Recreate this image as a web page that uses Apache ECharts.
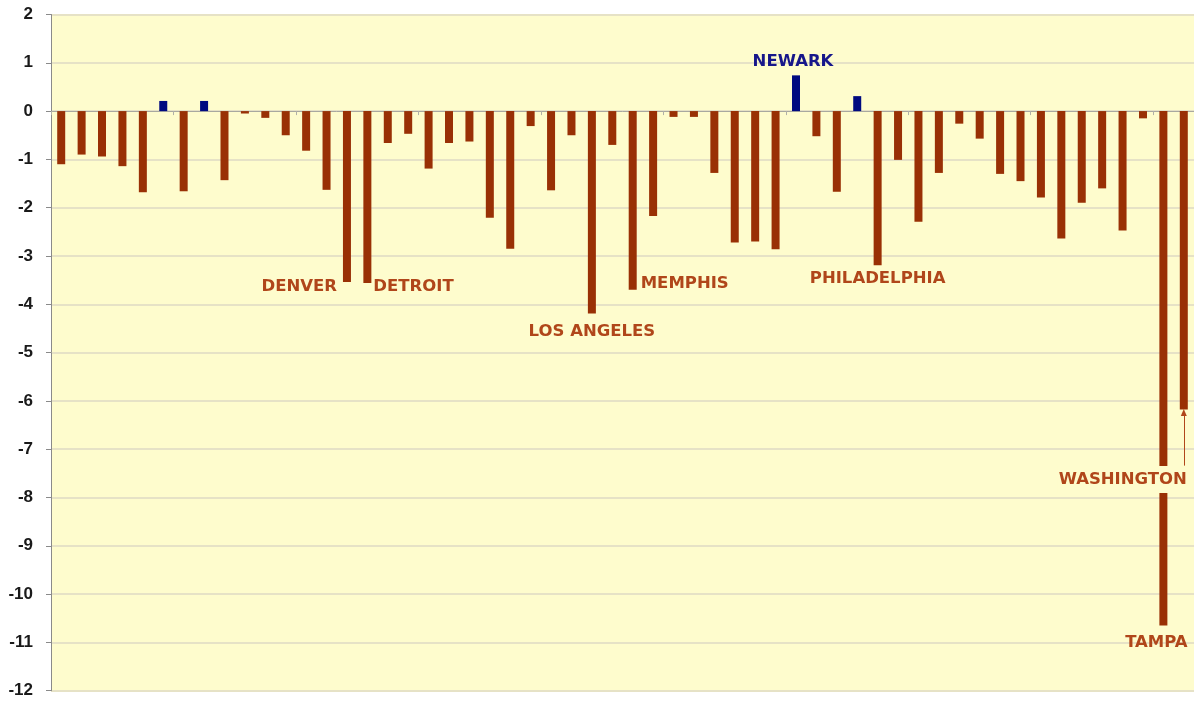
<!DOCTYPE html>
<html>
<head>
<meta charset="utf-8">
<script src="https://cdn.jsdelivr.net/npm/echarts@6/dist/echarts.min.js"></script>
<style>
html,body{margin:0;padding:0;background:#ffffff;}
#chart{width:1194px;height:701px;}
</style>
</head>
<body>
<div id="chart"></div>
<script>
// ---- data ----
const categories = [
  "C1","C2","C3","C4","C5","C6","C7","C8","C9","C10",
  "C11","C12","C13","C14","DENVER","DETROIT","C17","C18","C19","C20",
  "C21","C22","C23","C24","C25","C26","LOS ANGELES","C28","MEMPHIS","C30",
  "C31","C32","C33","C34","C35","C36","NEWARK","C38","C39","C40",
  "PHILADELPHIA","C42","C43","C44","C45","C46","C47","C48","C49","C50",
  "C51","C52","C53","C54","TAMPA","WASHINGTON"
];
const values = [
  -1.10, -0.90, -0.94, -1.14, -1.68, 0.21, -1.66, 0.21, -1.43, -0.05,
  -0.14, -0.50, -0.82, -1.63, -3.54, -3.56, -0.66, -0.47, -1.19, -0.66,
  -0.63, -2.21, -2.85, -0.31, -1.64, -0.50, -4.19, -0.70, -3.70, -2.17,
  -0.12, -0.12, -1.28, -2.72, -2.70, -2.86, 0.74, -0.52, -1.67, 0.31,
  -3.19, -1.01, -2.29, -1.28, -0.26, -0.57, -1.30, -1.45, -1.79, -2.64,
  -1.90, -1.60, -2.47, -0.15, -10.65, -6.18
];
const labelledCities = ["DENVER","DETROIT","LOS ANGELES","MEMPHIS","NEWARK","PHILADELPHIA","TAMPA","WASHINGTON"];
const yTicks = [-12,-11,-10,-9,-8,-7,-6,-5,-4,-3,-2,-1,0,1,2];
const arrowFrom = -7.34; // value where WASHINGTON arrow starts

// ---- styles ----
const BROWN = '#993005';
const LABEL_BROWN = '#b0461a';
const NAVY = '#000a80';
const PLOT_BG = '#fefccd';
const LABEL_FONT = 'DejaVu Sans, Verdana, sans-serif';

const labelStyles = {
  "DENVER":       {position:'left',   distance:10, offset:[0,5]},
  "DETROIT":      {position:'right',  distance:6,  offset:[0,4]},
  "LOS ANGELES":  {position:'bottom', distance:10, offset:[0,0]},
  "MEMPHIS":      {position:'right',  distance:8,  offset:[0,-6]},
  "NEWARK":       {position:'top',    distance:5,  offset:[-3,0]},
  "PHILADELPHIA": {position:'bottom', distance:5,  offset:[0,0]},
  "TAMPA":        {position:'bottom', distance:9,  offset:[-7,0]},
  "WASHINGTON":   {position:'inside', distance:0,  offset:[-61,70], backgroundColor:PLOT_BG, padding:[5,1,5,1]}
};

const labelData = labelledCities.map(name => {
  const i = categories.indexOf(name);
  const v = values[i];
  const st = labelStyles[name];
  return {
    value: [i, v],
    label: Object.assign({
      show: true,
      formatter: name,
      color: v > 0 ? '#16168a' : LABEL_BROWN,
      textBorderWidth: 0,
      textBorderColor: 'transparent',
      fontFamily: LABEL_FONT,
      fontWeight: 'bold',
      fontSize: 16.5
    }, st)
  };
});

const washIdx = categories.indexOf('WASHINGTON');

const chart = echarts.init(document.getElementById('chart'), null, {renderer:'canvas'});
chart.setOption({
  animation: false,
  backgroundColor: '#ffffff',
  grid: {
    left: 51, right: -1, top: 14.5, bottom: 10.3,
    show: true, backgroundColor: PLOT_BG, borderWidth: 0
  },
  xAxis: {
    type: 'category',
    data: categories,
    boundaryGap: true,
    axisLine: {show: true, onZero: true, lineStyle: {color: '#a8a8a0', width: 1}},
    axisTick: {show: true, length: 4, inside: false, lineStyle: {color: '#b0b0a8'}},
    axisLabel: {show: false},
    splitLine: {show: false}
  },
  yAxis: {
    type: 'value',
    min: yTicks[0],
    max: yTicks[yTicks.length - 1],
    interval: 1,
    axisLine: {show: true, lineStyle: {color: '#8a8a8a', width: 1}},
    axisTick: {show: true, length: 5, lineStyle: {color: '#8a8a8a'}},
    axisLabel: {
      margin: 18,
      color: '#1a1a1a',
      fontFamily: 'Liberation Sans, Arial, sans-serif',
      fontWeight: 'bold',
      fontSize: 17
    },
    splitLine: {show: true, lineStyle: {color: '#e6e2c6', width: 2}}
  },
  series: [
    {
      type: 'bar',
      data: values.map(v => ({value: v, itemStyle: {color: v > 0 ? NAVY : BROWN}})),
      barWidth: 8,
      z: 2
    },
    {
      type: 'scatter',
      data: labelData,
      symbolSize: 0,
      itemStyle: {color: LABEL_BROWN, opacity: 1},
      z: 5,
      silent: true,
      markLine: {
        silent: true,
        symbol: ['none', 'triangle'],
        symbolSize: [6, 7],
        label: {show: false},
        lineStyle: {color: LABEL_BROWN, width: 1, type: 'solid'},
        data: [[{coord: [washIdx, arrowFrom]}, {coord: [washIdx, values[washIdx] - 0.06]}]]
      }
    }
  ]
});
</script>
</body>
</html>
